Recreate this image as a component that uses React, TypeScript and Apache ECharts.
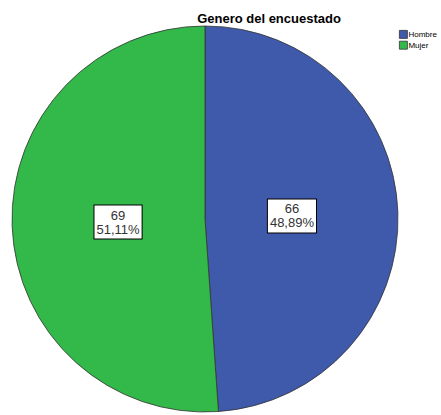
import React, { useEffect, useRef } from "react";
import * as echarts from "echarts";

const categories = ["Hombre", "Mujer"];
const counts = [66, 69];
const percents = ["48,89%", "51,11%"];
const colors = ["#3f59ab", "#33b84a"];

export default function App() {
  const ref = useRef<HTMLDivElement>(null);
  useEffect(() => {
    document.body.style.margin = "0";
    document.body.style.overflow = "hidden";
    const chart = echarts.init(ref.current!, null, { renderer: "svg" });
    const data = categories.map((c, i) => ({ name: c, value: counts[i], itemStyle: { color: colors[i] } }));
    chart.setOption({
      animation: false,
      title: {
        text: "Genero del encuestado",
        left: 264,
        textAlign: "center",
        top: 7,
        textStyle: { fontFamily: "Liberation Sans", fontSize: 13, fontWeight: "bold", color: "#000" },
      },
      legend: {
        orient: "vertical",
        left: 399,
        top: 30,
        padding: 0,
        itemWidth: 8,
        itemHeight: 8,
        itemGap: 2,
        icon: "rect",
        data: categories,
        textStyle: {
          fontFamily: "Liberation Sans",
          fontSize: 8,
          color: "#000",
          padding: [0, 0, 0, -4],
        },
        itemStyle: { borderColor: "#333", borderWidth: 0.8 },
      },
      series: [
        {
          type: "pie",
          center: [205, 219],
          radius: 193,
          startAngle: 90,
          clockwise: true,
          silent: true,
          itemStyle: { borderColor: "#333", borderWidth: 0.8 },
          label: { show: false },
          labelLine: { show: false },
          data,
        },
        {
          type: "pie",
          center: [205, 219],
          radius: 168,
          startAngle: 90,
          clockwise: true,
          silent: true,
          itemStyle: { color: "transparent", borderWidth: 0 },
          label: {
            show: true,
            position: "inside",
            formatter: (p: any) => `${counts[p.dataIndex]}\n${percents[p.dataIndex]}`,
            fontFamily: "Liberation Sans",
            fontSize: 13,
            lineHeight: 14,
            color: "#333",
            backgroundColor: "#fff",
            borderColor: "#000",
            borderWidth: 1,
            padding: [3, 2, 2, 2],
          },
          labelLine: { show: false },
          data: categories.map((c, i) => ({ name: c, value: counts[i], itemStyle: { color: "transparent" } })),
        },
      ],
    });
    return () => chart.dispose();
  }, []);
  return <div ref={ref} style={{ width: 441, height: 415 }} />;
}
